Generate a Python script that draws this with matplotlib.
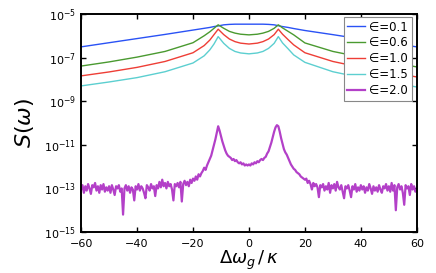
import numpy as np
import matplotlib
matplotlib.use('Agg')
import matplotlib.pyplot as plt

DPI = 100

# smooth spectra, log10 S(w)
x_smooth = [-60, -50, -40, -30, -20, -16, -14, -12.5, -11, -9, -7, -5, -3, 0,
            3, 5, 7, 9, 10.5, 12, 14, 16, 20, 30, 40, 50, 60]
log_e01 = [-6.51, -6.32, -6.13, -5.94, -5.74, -5.66, -5.62, -5.58, -5.55, -5.5, -5.48, -5.47, -5.47, -5.47,
           -5.47, -5.47, -5.48, -5.5, -5.54, -5.58, -5.62, -5.67, -5.76, -5.95, -6.15, -6.33, -6.51]
log_e06 = [-7.39, -7.2, -6.98, -6.72, -6.32, -6.0, -5.82, -5.66, -5.5, -5.66, -5.8, -5.88, -5.93, -5.96,
           -5.93, -5.88, -5.8, -5.66, -5.5, -5.64, -5.8, -5.96, -6.33, -6.72, -6.98, -7.2, -7.43]
log_e10 = [-7.84, -7.66, -7.45, -7.18, -6.78, -6.45, -6.2, -5.95, -5.7, -5.95, -6.15, -6.27, -6.34, -6.38,
           -6.34, -6.27, -6.15, -5.95, -5.7, -5.93, -6.18, -6.42, -6.78, -7.18, -7.45, -7.67, -7.89]
log_e15 = [-8.30, -8.12, -7.92, -7.65, -7.25, -6.92, -6.65, -6.38, -6.04, -6.35, -6.58, -6.72, -6.79, -6.83,
           -6.79, -6.72, -6.58, -6.35, -6.04, -6.33, -6.6, -6.88, -7.22, -7.65, -7.92, -8.13, -8.35]

# noisy eps=2.0 spectrum, step 0.5 from -60 to 60
x_noisy = np.arange(-60, 60.5, 0.5)
log_e20 = [
    -13.05, -12.85, -13.2, -12.9, -13.1, -12.8, -13.0, -13.25, -12.85, -12.95,
    -12.75, -13.1, -12.9, -13.2, -12.85, -13.05, -12.8, -13.15, -12.95, -13.1,
    -12.9, -13.2, -12.85, -13.05, -13.3, -12.9, -13.0, -12.85, -13.15, -13.0,
    -14.2, -13.0, -12.85, -13.1, -12.9, -13.2, -12.95, -13.05, -13.55, -12.9,
    -13.05, -12.8, -13.1, -12.9, -13.0, -13.2, -13.45, -12.85, -12.95, -13.1,
    -12.8, -13.0, -12.9, -13.35, -12.85, -13.0, -12.7, -12.95, -12.6, -12.9,
    -12.75, -13.0, -12.7, -12.9, -12.8, -13.05, -13.55, -12.8, -12.9, -12.75,
    -12.95, -12.7, -13.6, -12.8, -12.65, -12.85, -12.7, -12.9, -12.6, -12.75,
    -12.55, -12.65, -12.45, -12.6, -12.35, -12.45, -12.3, -12.2, -12.05, -12.15,
    -11.95, -11.8, -11.65, -11.5, -11.25, -11.0, -10.75, -10.45, -10.15, -10.35,
    -10.6, -10.85, -11.05, -11.25, -11.4, -11.5, -11.55, -11.6, -11.7, -11.65,
    -11.75, -11.7, -11.8, -11.85, -11.8, -11.9, -11.85, -11.95, -11.9, -11.95,
    -11.9, -11.95, -11.85, -11.9, -11.8, -11.85, -11.75, -11.8, -11.7, -11.65,
    -11.7, -11.6, -11.55, -11.4, -11.3, -11.1, -10.9, -10.65, -10.4, -10.2,
    -10.1, -10.15, -10.4, -10.7, -10.95, -11.2, -11.35, -11.45, -11.6, -11.75,
    -11.9, -12.0, -12.1, -12.15, -12.25, -12.3, -12.35, -12.45, -12.5, -12.55,
    -12.6, -12.55, -12.75, -12.65, -12.8, -13.05, -12.75, -12.9, -12.8, -12.95,
    -13.4, -12.85, -12.95, -12.8, -13.1, -12.9, -13.05, -12.75, -13.2, -12.85,
    -13.0, -12.8, -13.1, -12.7, -12.95, -13.05, -12.85, -13.15, -13.45, -12.9,
    -13.0, -12.85, -13.1, -13.4, -12.9, -13.05, -12.8, -13.15, -12.95, -13.1,
    -12.85, -13.05, -12.9, -13.2, -12.95, -13.1, -12.8, -13.0, -13.25, -12.9,
    -13.1, -12.95, -13.15, -12.85, -13.05, -13.2, -12.9, -13.0, -12.8, -13.1,
    -12.9, -13.15, -12.75, -13.1, -12.85, -14.0, -12.95, -12.8, -13.05, -12.9,
    -13.2, -13.75, -12.85, -13.0, -12.9, -13.3, -12.8, -13.05, -12.9, -13.15,
    -13.05]

labels = [u'\u2208=0.1', u'\u2208=0.6', u'\u2208=1.0', u'\u2208=1.5', u'\u2208=2.0']
colors = ['#2a52f5', '#4a9a30', '#ee3e36', '#5ccfd0', '#b340c8']

fig = plt.figure(figsize=(4.36, 2.73), dpi=DPI)
ax = fig.add_axes([0.186, 0.150, 0.770, 0.799])

for ys, c, lab in zip([log_e01, log_e06, log_e10, log_e15], colors[:4], labels[:4]):
    ax.plot(x_smooth, 10.0 ** np.array(ys), color=c, linewidth=1.0, label=lab)
ax.plot(x_noisy, 10.0 ** np.array(log_e20), color=colors[4], linewidth=1.6, label=labels[4])

ax.set_yscale('log')
ax.set_xlim(-60, 60)
ax.set_ylim(1e-15, 1e-5)
ax.set_yticks([1e-15, 1e-13, 1e-11, 1e-9, 1e-7, 1e-5])
ax.set_xticks([-60, -40, -20, 0, 20, 40, 60])
ax.minorticks_off()
ax.tick_params(direction='in', top=True, right=True, labelsize=8, length=3.5, width=1)
ax.tick_params(axis='x', pad=5)
for s in ax.spines.values():
    s.set_linewidth(1.4)

ax.set_xlabel(r'$\Delta\omega_g\,/\,\kappa$', fontsize=13, labelpad=0)
ax.set_ylabel(r'$S(\omega)$', fontsize=16, labelpad=6)

leg = ax.legend(loc='upper right', bbox_to_anchor=(0.985, 0.986), borderaxespad=0,
                fontsize=8.5, handlelength=1.5, handletextpad=0.4, labelspacing=0.25,
                borderpad=0.3, fancybox=False, framealpha=1)
leg.get_frame().set_edgecolor('#888888')
leg.get_frame().set_linewidth(0.8)

fig.savefig('out.png', dpi=DPI)
